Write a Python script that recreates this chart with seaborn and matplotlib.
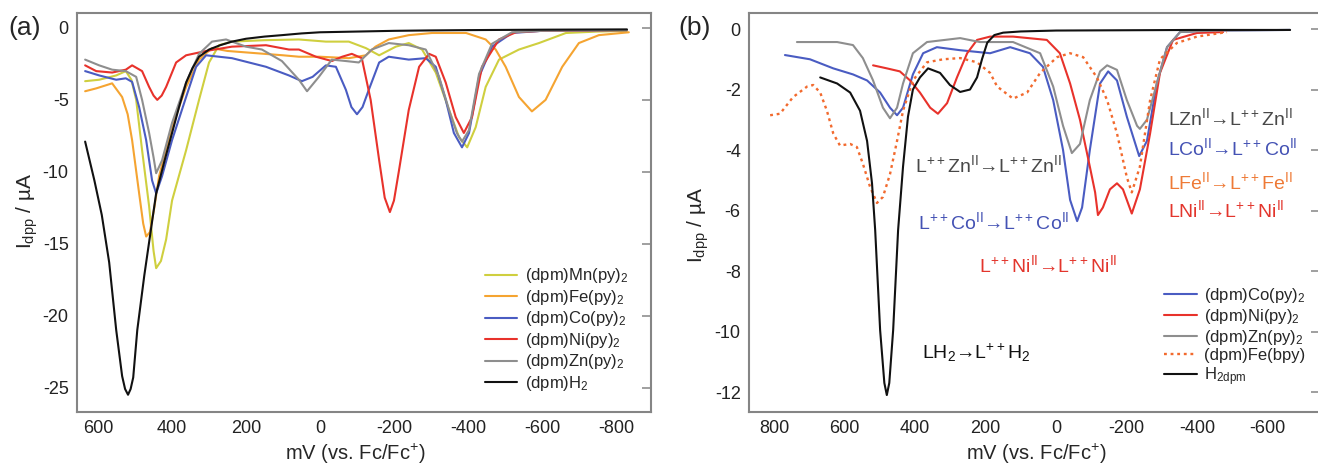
import matplotlib
matplotlib.use('Agg')
import matplotlib.pyplot as plt
import seaborn as sns

# ---------------- panel (a) data : mV (vs Fc/Fc+) and I_dpp (uA) ----------------
a_h2_mv = [635, 610, 590, 570, 551, 535, 527, 519, 512, 505, 494, 475, 457, 443, 420, 400, 380, 362, 345, 327,
           300, 270, 238, 200, 150, 103, 50, 0, -100, -200, -300, -400, -600, -830]
a_h2_i = [-7.9, -10.6, -13.0, -16.3, -21.0, -24.2, -25.1, -25.5, -25.1, -24.3, -21.0, -17.2, -14.0, -11.5, -9.2,
          -7.3, -5.4, -3.8, -2.8, -2.0, -1.5, -1.2, -0.95, -0.75, -0.6, -0.5, -0.38, -0.3, -0.25, -0.2, -0.17,
          -0.15, -0.12, -0.1]

a_fe_mv = [635, 605, 562, 535, 520, 508, 489, 478, 470, 460, 448, 435, 400, 362, 327, 292, 250, 200, 150, 100,
           57, 0, -78, -124, -150, -186, -240, -303, -395, -448, -475, -502, -538, -573, -610, -655, -700, -754,
           -835]
a_fe_i = [-4.4, -4.2, -3.85, -4.8, -6.0, -7.8, -11.5, -13.6, -14.5, -14.2, -12.5, -10.3, -6.9, -4.1, -2.2, -1.4,
          -1.6, -1.7, -1.8, -1.9, -2.0, -2.0, -2.1, -1.9, -1.3, -0.8, -0.5, -0.35, -0.35, -0.8, -1.5, -2.7, -4.8,
          -5.8, -5.0, -2.7, -1.05, -0.5, -0.3]

a_mn_mv = [635, 597, 551, 525, 510, 497, 481, 462, 450, 443, 430, 416, 400, 362, 327, 300, 273, 238, 150, 57,
           -16, -78, -124, -160, -205, -240, -276, -313, -349, -376, -398, -421, -448, -484, -538, -592, -665,
           -750, -830]
a_mn_i = [-3.7, -3.6, -3.3, -3.0, -3.6, -5.0, -8.5, -12.4, -15.5, -16.7, -16.2, -14.7, -12.0, -8.5, -5.0, -2.4,
          -1.2, -0.95, -0.85, -0.8, -0.95, -0.95, -1.4, -1.9, -1.3, -1.05, -1.5, -3.1, -5.7, -7.6, -8.3, -6.9,
          -4.1, -2.2, -1.5, -1.05, -0.35, -0.25, -0.2]

a_co_mv = [635, 597, 551, 525, 508, 489, 470, 454, 443, 427, 400, 362, 335, 308, 238, 146, 84, 49, 20, -16, -43,
           -70, -85, -100, -115, -132, -160, -186, -240, -286, -313, -340, -362, -384, -403, -430, -465, -519,
           -600, -830]
a_co_i = [-3.0, -3.3, -3.6, -3.5, -3.75, -5.5, -7.8, -10.6, -11.5, -10.3, -7.8, -4.8, -2.7, -1.9, -2.1, -2.7,
          -3.3, -3.7, -3.4, -2.6, -2.7, -4.3, -5.5, -6.0, -5.5, -4.3, -2.4, -2.0, -2.2, -2.1, -2.7, -5.0, -7.3,
          -8.3, -7.3, -3.4, -1.3, -0.35, -0.2, -0.15]

a_ni_mv = [635, 605, 562, 525, 508, 481, 462, 450, 440, 428, 416, 389, 362, 308, 238, 146, 84, 57, 11, -32, -60,
           -86, -113, -137, -160, -175, -189, -200, -213, -240, -268, -295, -313, -340, -367, -389, -411, -438,
           -484, -530, -600, -830]
a_ni_i = [-2.6, -3.0, -3.1, -2.9, -2.6, -3.0, -4.1, -4.7, -5.0, -4.7, -4.1, -2.4, -1.9, -1.6, -1.3, -1.2, -1.5,
          -1.5, -2.0, -2.3, -2.0, -1.8, -2.1, -5.0, -9.2, -11.8, -12.8, -12.0, -10.0, -5.7, -2.7, -1.8, -2.0,
          -3.8, -6.2, -7.3, -6.2, -2.7, -0.8, -0.3, -0.2, -0.15]

a_zn_mv = [635, 597, 562, 525, 497, 481, 462, 450, 443, 427, 400, 362, 327, 292, 254, 200, 157, 103, 57, 35, 3,
           -32, -70, -105, -140, -186, -240, -286, -322, -349, -370, -384, -403, -430, -465, -519, -600, -830]
a_zn_i = [-2.2, -2.6, -2.9, -3.0, -3.4, -5.0, -7.3, -9.0, -10.1, -9.2, -6.6, -3.8, -1.8, -0.95, -0.8, -1.3, -1.5,
          -2.3, -3.6, -4.4, -3.4, -2.2, -2.3, -2.4, -1.5, -1.05, -1.2, -1.5, -3.4, -5.7, -7.3, -7.9, -7.1, -3.2,
          -1.1, -0.3, -0.2, -0.15]

# ---------------- panel (b) data ----------------
b_co_mv = [769, 698, 632, 576, 536, 499, 471, 451, 434, 406, 377, 338, 272, 187, 130, 74, 37, 8, -20, -40, -60,
           -74, -96, -125, -148, -173, -201, -236, -258, -286, -315, -352, -450, -664]
b_co_i = [-0.86, -1.0, -1.3, -1.5, -1.7, -2.1, -2.6, -2.85, -2.6, -1.5, -0.8, -0.6, -0.7, -0.8, -0.6, -0.8,
          -1.25, -2.35, -4.0, -5.65, -6.35, -5.9, -4.0, -1.8, -1.4, -1.7, -2.9, -4.2, -3.7, -1.8, -0.6, -0.1,
          -0.05, -0.03]

b_ni_mv = [519, 480, 443, 414, 386, 357, 335, 309, 281, 252, 224, 187, 122, 26, -11, -40, -68, -96, -111, -119,
           -133, -153, -173, -190, -215, -238, -267, -295, -332, -400, -474]
b_ni_i = [-1.2, -1.3, -1.4, -1.7, -2.1, -2.6, -2.8, -2.45, -1.6, -0.8, -0.36, -0.25, -0.25, -0.36, -0.8, -1.8,
          -3.0, -4.55, -5.4, -6.15, -5.9, -5.3, -5.1, -5.3, -6.1, -5.3, -3.45, -1.45, -0.36, -0.13, -0.1]

b_zn_mv = [735, 621, 576, 548, 519, 491, 471, 451, 434, 406, 366, 272, 216, 122, 45, 8, -20, -45, -68, -96, -125,
           -145, -173, -201, -230, -238, -258, -286, -315, -352, -450, -664]
b_zn_i = [-0.43, -0.43, -0.53, -0.96, -1.7, -2.6, -2.95, -2.6, -1.8, -0.8, -0.43, -0.3, -0.43, -0.43, -0.8,
          -1.9, -3.2, -4.1, -3.8, -2.35, -1.4, -1.2, -1.35, -2.35, -3.2, -3.3, -3.0, -1.8, -0.6, -0.1, -0.05,
          -0.03]

b_fe_mv = [811, 783, 746, 706, 689, 669, 650, 632, 613, 584, 565, 548, 528, 508, 491, 471, 451, 434, 406, 366,
           320, 272, 224, 187, 167, 122, 82, 45, -3, -40, -77, -116, -145, -173, -201, -215, -238, -267, -295,
           -343, -400, -485]
b_fe_i = [-2.85, -2.8, -2.25, -1.9, -1.85, -2.1, -2.7, -3.45, -3.85, -3.8, -3.9, -4.45, -5.2, -5.75, -5.55, -4.8,
          -3.7, -2.7, -1.7, -1.1, -1.0, -0.96, -1.1, -1.45, -1.9, -2.3, -2.1, -1.45, -0.93, -0.8, -0.93, -1.6,
          -2.35, -3.45, -4.9, -5.4, -4.55, -2.35, -1.0, -0.46, -0.25, -0.1]

b_h2_mv = [669, 621, 584, 556, 536, 522, 513, 499, 487, 480, 473, 462, 448, 434, 420, 406, 386, 363, 329, 301,
           272, 244, 224, 210, 195, 175, 150, 100, 0, -200, -400, -664]
b_h2_i = [-1.6, -1.8, -2.1, -2.7, -3.7, -5.1, -6.65, -9.95, -11.7, -12.1, -11.7, -9.95, -6.65, -4.55, -2.9, -2.0,
          -1.6, -1.3, -1.45, -1.85, -2.08, -2.0, -1.6, -1.0, -0.45, -0.2, -0.12, -0.08, -0.05, -0.04, -0.03, -0.03]

a_ticks_x = [600, 400, 200, 0, -200, -400, -600, -800]
a_ticks_y = [0, -5, -10, -15, -20, -25]
b_ticks_x = [800, 600, 400, 200, 0, -200, -400, -600]
b_ticks_y = [0, -2, -4, -6, -8, -10, -12]

sns.set_theme(style='white')
plt.rcParams['font.family'] = ['Liberation Sans', 'DejaVu Sans']
plt.rcParams['mathtext.default'] = 'regular'
plt.rcParams['axes.unicode_minus'] = False

c_mn, c_fe, c_co, c_ni, c_zn, c_h2 = '#cfcf3f', '#f5a431', '#4a5cc2', '#e8322b', '#8e8e8e', '#111111'
c_febpy = '#f26a2e'
spine_c = '#858585'

fig = plt.figure(figsize=(13.18, 4.68), dpi=100)
ax_a = fig.add_axes([77 / 1318, 56 / 468, 574 / 1318, 399 / 468])
ax_b = fig.add_axes([749 / 1318, 56 / 468, 571 / 1318, 399 / 468])

lw = 1.5
series_a = [
    (a_mn_mv, a_mn_i, c_mn, '(dpm)Mn(py)$_2$'),
    (a_fe_mv, a_fe_i, c_fe, '(dpm)Fe(py)$_2$'),
    (a_co_mv, a_co_i, c_co, '(dpm)Co(py)$_2$'),
    (a_ni_mv, a_ni_i, c_ni, '(dpm)Ni(py)$_2$'),
    (a_zn_mv, a_zn_i, c_zn, '(dpm)Zn(py)$_2$'),
    (a_h2_mv, a_h2_i, c_h2, '(dpm)H$_2$'),
]
for mv, cur, col, lab in series_a:
    sns.lineplot(x=mv, y=cur, ax=ax_a, color=col, lw=lw, label=lab, sort=False, estimator=None)

series_b = [
    (b_co_mv, b_co_i, c_co, '-', '(dpm)Co(py)$_2$'),
    (b_ni_mv, b_ni_i, c_ni, '-', '(dpm)Ni(py)$_2$'),
    (b_zn_mv, b_zn_i, c_zn, '-', '(dpm)Zn(py)$_2$'),
    (b_fe_mv, b_fe_i, c_febpy, (0, (1.2, 1.6)), '(dpm)Fe(bpy)'),
    (b_h2_mv, b_h2_i, c_h2, '-', 'H$_{2dpm}$'),
]
for mv, cur, col, ls, lab in series_b:
    sns.lineplot(x=mv, y=cur, ax=ax_b, color=col, lw=lw + 0.2 if ls != '-' else lw, linestyle=ls,
                 label=lab, sort=False, estimator=None)

ax_a.set_xlim(657, -895)
ax_a.set_ylim(-26.7, 1.04)
ax_a.set_xticks(a_ticks_x)
ax_a.set_yticks(a_ticks_y)
ax_b.set_xlim(871, -749)
ax_b.set_ylim(-12.66, 0.53)
ax_b.set_xticks(b_ticks_x)
ax_b.set_yticks(b_ticks_y)

for ax in (ax_a, ax_b):
    for s in ax.spines.values():
        s.set_color(spine_c)
        s.set_linewidth(1.5)
    ax.tick_params(direction='in', length=6.5, width=1.1, color=spine_c, labelsize=13,
                   labelcolor='#222222', right=True, pad=6)
    ax.set_xlabel('mV (vs. Fc/Fc$^{+}$)', fontsize=14.5, labelpad=3)
    ax.set_ylabel('I$_{dpp}$ / µA', fontsize=15)

# panel (a) x label sits a little left of the axes centre
ax_a.xaxis.label.set_x(0.484)
ax_b.xaxis.label.set_x(0.503)
ax_a.yaxis.set_label_coords(-0.064, 0.505)
ax_b.yaxis.set_label_coords(-0.066, 0.47)

leg_a = ax_a.legend(loc='upper left', bbox_to_anchor=(0.711, 0.365), frameon=False, fontsize=12,
                    handlelength=1.9, handletextpad=0.5, labelspacing=0.15, borderpad=0, borderaxespad=0)
leg_b = ax_b.legend(loc='upper left', bbox_to_anchor=(0.726, 0.315), frameon=False, fontsize=12,
                    handlelength=2.0, handletextpad=0.4, labelspacing=0.1, borderpad=0, borderaxespad=0)

# redox process labels in (b)
t_zn, t_co, t_fe, t_ni, t_h = '#484848', '#4452b4', '#ee7a36', '#e3352c', '#111111'
fs = 14
ax_b.text(400, -4.5, 'L$^{++}$Zn$^{II}$→L$^{++}$Zn$^{II}$', color=t_zn, fontsize=fs, va='center')
ax_b.text(391, -6.4, 'L$^{++}$Co$^{II}$→L$^{++}$Co$^{II}$', color=t_co, fontsize=fs, va='center')
ax_b.text(218, -7.8, 'L$^{++}$Ni$^{II}$→L$^{++}$Ni$^{II}$', color=t_ni, fontsize=fs, va='center')
ax_b.text(380, -10.7, 'LH$_2$→L$^{++}$H$_2$', color=t_h, fontsize=fs, va='center')
ax_b.text(-318, -2.95, 'LZn$^{II}$→L$^{++}$Zn$^{II}$', color=t_zn, fontsize=fs, va='center')
ax_b.text(-318, -3.95, 'LCo$^{II}$→L$^{++}$Co$^{II}$', color=t_co, fontsize=fs, va='center')
ax_b.text(-318, -5.05, 'LFe$^{II}$→L$^{++}$Fe$^{II}$', color=t_fe, fontsize=fs, va='center')
ax_b.text(-318, -6.0, 'LNi$^{II}$→L$^{++}$Ni$^{II}$', color=t_ni, fontsize=fs, va='center')

fig.text(8 / 1318, 1 - 28 / 468, '(a)', fontsize=19, va='center', ha='left')
fig.text(678 / 1318, 1 - 28 / 468, '(b)', fontsize=19, va='center', ha='left')

fig.savefig('out.png', dpi=100)
